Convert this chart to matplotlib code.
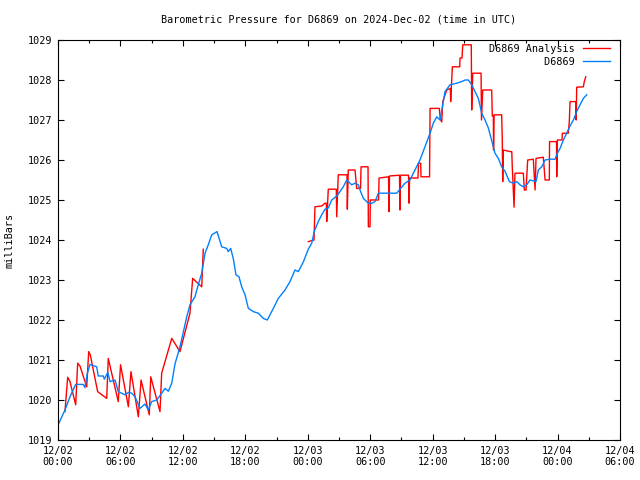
import numpy as np
import matplotlib
matplotlib.use('Agg')
import matplotlib.pyplot as plt
from matplotlib.ticker import MultipleLocator, FixedLocator

# ---- data (hours since 2024-12-02 00:00 UTC, millibars) ----
obs_hours = [0.05, 0.67, 1.15, 1.70, 2.43, 2.59, 2.82, 3.08, 3.72, 3.87, 4.35, 4.45, 4.78, 5.00,
             5.48, 5.79, 6.44, 6.76, 7.08, 7.40, 7.88, 8.36, 8.68, 9.00, 9.48, 9.97, 10.28, 10.60,
             10.93, 11.24, 11.72, 12.04, 12.37, 12.68, 13.16, 13.48, 13.81, 14.13, 14.44, 14.77,
             15.28, 15.73, 16.21, 16.36, 16.59, 16.84, 17.10, 17.39, 17.65, 17.97, 18.29, 18.77,
             19.25, 19.73, 20.11, 20.69, 21.17, 21.81, 22.29, 22.77, 23.09, 23.57, 24.05, 24.38,
             24.63, 25.01, 25.34, 25.66, 25.97, 26.30, 26.78, 27.10, 27.41, 27.74, 28.22, 28.54,
             28.86, 29.02, 29.34, 29.82, 30.14, 30.46, 30.78, 31.26, 31.90, 32.55, 32.86, 33.34,
             33.82, 34.30, 34.78, 35.26, 35.75, 36.06, 36.39, 36.71, 36.97, 37.19, 37.67, 38.31,
             38.79, 39.11, 39.43, 39.75, 40.07, 40.39, 40.71, 41.03, 41.35, 41.67, 41.99, 42.31,
             42.63, 42.95, 43.37, 43.75, 44.08, 44.39, 44.71, 45.04, 45.35, 45.93, 46.15, 46.48,
             46.80, 47.28, 47.76, 47.98, 48.24, 48.56, 48.88, 49.20, 49.52, 49.84, 50.16, 50.48,
             50.80]
obs_mb = [1019.40, 1019.75, 1020.08, 1020.39, 1020.39, 1020.31, 1020.67, 1020.89, 1020.83, 1020.60,
          1020.60, 1020.52, 1020.69, 1020.46, 1020.50, 1020.21, 1020.13, 1020.19, 1020.17, 1020.08,
          1019.79, 1019.90, 1019.75, 1019.96, 1020.00, 1020.17, 1020.29, 1020.22, 1020.42, 1020.90,
          1021.33, 1021.70, 1022.08, 1022.38, 1022.58, 1022.88, 1023.17, 1023.67, 1023.88, 1024.13,
          1024.21, 1023.83, 1023.79, 1023.71, 1023.79, 1023.54, 1023.13, 1023.08, 1022.83, 1022.63,
          1022.29, 1022.21, 1022.17, 1022.04, 1022.00, 1022.29, 1022.54, 1022.75, 1022.96, 1023.25,
          1023.21, 1023.45, 1023.77, 1023.92, 1024.22, 1024.46, 1024.63, 1024.77, 1024.80, 1025.00,
          1025.10, 1025.21, 1025.33, 1025.50, 1025.38, 1025.42, 1025.38, 1025.25, 1025.04, 1024.92,
          1024.92, 1024.96, 1025.17, 1025.17, 1025.17, 1025.17, 1025.27, 1025.42, 1025.50, 1025.75,
          1026.00, 1026.33, 1026.67, 1026.92, 1027.08, 1027.00, 1027.38, 1027.71, 1027.88, 1027.92,
          1027.96, 1028.00, 1028.00, 1027.88, 1027.71, 1027.54, 1027.17, 1027.00, 1026.80, 1026.48,
          1026.17, 1026.04, 1025.83, 1025.72, 1025.46, 1025.42, 1025.46, 1025.38, 1025.33, 1025.38,
          1025.50, 1025.46, 1025.75, 1025.83, 1026.00, 1026.02, 1026.02, 1026.17, 1026.29, 1026.50,
          1026.67, 1026.85, 1027.00, 1027.21, 1027.38, 1027.54, 1027.63]

ana_hours = [0.67, 0.93, 1.15, 1.70, 1.89, 2.11, 2.76, 2.95, 3.10, 3.81, 4.68, 4.83, 5.79, 6.01,
             6.76, 7.01, 7.72, 7.98, 8.77, 8.91, 9.80, 9.96, 10.93, 11.72, 12.68, 12.94, 13.81, 13.96,
             np.nan,
             24.05, 24.60, 24.69, 25.34, 25.66, 25.78, 25.82, 25.97, 26.45, 26.74, 26.78, 26.93,
             27.77, 27.80, 27.89, 28.54, 28.70, 29.07, 29.12, 29.79, 29.82, 29.98, 30.01, 30.80,
             30.85, 31.76, 31.81, 31.85, 32.81, 32.86, 32.91, 33.68, 33.73, 33.78, 34.59, 34.64,
             34.85, 34.88, 35.70, 35.75, 36.64, 36.73, 36.87, 36.97, 37.35, 37.70, 37.73, 37.89,
             38.60, 38.63, 38.82, 38.89, 39.71, 39.75, 39.85, 40.65, 40.69, 40.81, 41.67, 41.73,
             41.83, 41.85, 41.90, 42.63, 42.69, 42.73, 42.79, 43.43, 43.60, 43.65, 43.82, 43.91,
             44.71, 44.81, 44.97, 45.13, 45.67, 45.84, 45.93, 46.63, 46.80, 47.21, 47.23, 47.90,
             47.92, 47.98, 48.43, 48.46, 49.03, 49.13, 49.20, 49.77, 49.79, 49.84, 50.48, 50.57,
             50.71]
ana_mb = [1019.71, 1020.57, 1020.46, 1019.88, 1020.92, 1020.85, 1020.33, 1021.21, 1021.13, 1020.21,
          1020.04, 1021.04, 1019.96, 1020.88, 1019.83, 1020.71, 1019.58, 1020.50, 1019.63, 1020.58,
          1019.71, 1020.67, 1021.54, 1021.21, 1022.17, 1023.04, 1022.83, 1023.77,
          np.nan,
          1023.96, 1024.00, 1024.83, 1024.85, 1024.92, 1024.92, 1024.46, 1025.27, 1025.27, 1025.27,
          1024.58, 1025.63, 1025.63, 1024.77, 1025.75, 1025.75, 1025.29, 1025.29, 1025.83, 1025.83,
          1024.33, 1024.33, 1025.00, 1025.00, 1025.55, 1025.58, 1024.71, 1025.60, 1025.62, 1024.75,
          1025.62, 1025.62, 1024.92, 1025.55, 1025.55, 1025.92, 1025.92, 1025.58, 1025.58, 1027.29,
          1027.29, 1027.02, 1026.95, 1027.46, 1027.75, 1027.79, 1027.46, 1028.33, 1028.33, 1028.55,
          1028.55, 1028.88, 1028.88, 1027.25, 1028.17, 1028.17, 1027.00, 1027.75, 1027.75, 1027.10,
          1027.10, 1026.25, 1027.13, 1027.13, 1026.50, 1025.46, 1026.25, 1026.21, 1026.21, 1025.83,
          1024.82, 1025.67, 1025.67, 1025.25, 1025.25, 1026.00, 1026.02, 1025.25, 1026.04, 1026.07,
          1025.50, 1025.50, 1026.46, 1026.46, 1025.58, 1026.50, 1026.50, 1026.67, 1026.67, 1026.96,
          1027.46, 1027.46, 1027.00, 1027.82, 1027.83, 1027.96, 1028.08]

tick_labels = ['12/02\n00:00', '12/02\n06:00', '12/02\n12:00', '12/02\n18:00', '12/03\n00:00',
               '12/03\n06:00', '12/03\n12:00', '12/03\n18:00', '12/04\n00:00', '12/04\n06:00']

# ---- plot ----
plt.rcParams['font.family'] = ['DejaVu Sans Mono']
fs = 7.3
fig = plt.figure(figsize=(6.4, 4.8), dpi=100)
ax = fig.add_axes([58/640, 40/480, 562/640, 400/480])

ax.plot(ana_hours, ana_mb, color='#ff0000', lw=1.0, label='D6869 Analysis')
ax.plot(obs_hours, obs_mb, color='#0080ff', lw=1.0, label='         D6869')

ax.set_xlim(0, 54)
ax.set_ylim(1019, 1029)
ax.xaxis.set_major_locator(FixedLocator(np.arange(0, 55, 6)))
ax.set_xticklabels(tick_labels)
ax.xaxis.set_minor_locator(MultipleLocator(3))
ax.yaxis.set_major_locator(MultipleLocator(1))
ax.yaxis.set_major_formatter(plt.FormatStrFormatter('%d'))

ax.tick_params(which='both', direction='in', top=True, right=True, width=0.8, labelsize=fs, colors='black')
ax.tick_params(which='major', length=4.5, pad=4)
ax.tick_params(which='minor', length=2.3)
for s in ax.spines.values():
    s.set_linewidth(0.8)

fig.text(339/640, 1 - 20/480, 'Barometric Pressure for D6869 on 2024-Dec-02 (time in UTC)',
         ha='center', va='center', fontsize=fs)
fig.text(10/640, 240/480, 'milliBars', rotation=90, ha='center', va='center', fontsize=fs)

ax.legend(loc='upper right', bbox_to_anchor=(1 - 10/562, 1 - 4/400), frameon=False,
          markerfirst=False, fontsize=fs, handlelength=2.7, handletextpad=0.8,
          borderpad=0, borderaxespad=0, labelspacing=0.3)

fig.savefig('out.png', dpi=100)
